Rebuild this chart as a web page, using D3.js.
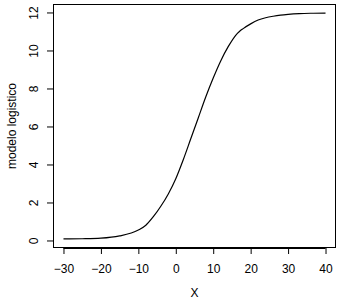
<!DOCTYPE html>
<html>
<head>
<meta charset="utf-8">
<script src="https://cdn.jsdelivr.net/npm/d3@7"></script>
<style>
  body { margin: 0; background: #fff; }
  text { font-family: "Liberation Sans", Arial, sans-serif; font-size: 12px; fill: #000; }
</style>
</head>
<body>
<svg id="chart" width="342" height="304"></svg>
<script>
// values
const xs = [-30, -25, -20, -15, -10, -8, -6, -4, -2, 0, 2, 4, 6, 8, 10, 12, 14, 16, 17, 18, 20, 22, 24, 26, 28, 30, 33, 36, 40];
const ys = [0.08, 0.09, 0.12, 0.24, 0.55, 0.80, 1.25, 1.8, 2.45, 3.25, 4.25, 5.35, 6.45, 7.55, 8.55, 9.45, 10.2, 10.8, 11.0, 11.15, 11.4, 11.6, 11.72, 11.8, 11.86, 11.9, 11.94, 11.96, 11.97];
const xTicks = [-30, -20, -10, 0, 10, 20, 30, 40];
const yTicks = [0, 2, 4, 6, 8, 10, 12];
const xTitle = 'X';
const yTitle = 'modelo logistico';

const box = { left: 53, right: 336, top: 4, bottom: 248 };

// R style: pad the data range by 4% each side
function padded(ext) {
  const d = (ext[1] - ext[0]) * 0.04;
  return [ext[0] - d, ext[1] + d];
}

const x = d3.scaleLinear().domain(padded(d3.extent(xs))).range([box.left, box.right]);
const y = d3.scaleLinear().domain(padded(d3.extent(ys))).range([box.bottom, box.top]);

const svg = d3.select('#chart');

const points = xs.map((v, i) => [v, ys[i]]);

svg.append('path')
  .datum(points)
  .attr('fill', 'none')
  .attr('stroke', '#000')
  .attr('stroke-width', 1.2)
  .attr('d', d3.line().x((d) => x(d[0])).y((d) => y(d[1])).curve(d3.curveMonotoneX));

svg.append('rect')
  .attr('x', box.left + 0.5)
  .attr('y', box.top + 0.5)
  .attr('width', box.right - box.left - 1)
  .attr('height', box.bottom - box.top - 1)
  .attr('fill', 'none')
  .attr('stroke', '#000')
  .attr('stroke-width', 1);

// bottom axis
const xAxis = svg.append('g')
  .attr('transform', `translate(0,${box.bottom})`)
  .call(d3.axisBottom(x).tickValues(xTicks).tickSize(6).tickPadding(10).tickFormat(d3.format('d')));
xAxis.select('.domain')
  .attr('d', `M${x(xTicks[0])},0.5H${x(xTicks[xTicks.length - 1])}`);
xAxis.selectAll('text').style('font-size', '12px').attr('fill', '#000');

// left axis, labels rotated like R's las = 0
const yAxis = svg.append('g')
  .attr('transform', `translate(${box.left},0)`)
  .call(d3.axisLeft(y).tickValues(yTicks).tickSize(6).tickFormat(d3.format('d')));
yAxis.select('.domain')
  .attr('d', `M0.5,${y(yTicks[0])}V${y(yTicks[yTicks.length - 1])}`);
yAxis.selectAll('.tick text')
  .attr('x', null)
  .attr('dy', null)
  .attr('text-anchor', 'middle')
  .attr('transform', 'translate(-15,0) rotate(-90)')
  .style('font-size', '12px')
  .attr('fill', '#000');

svg.append('text')
  .attr('x', (box.left + box.right) / 2)
  .attr('y', 297)
  .attr('text-anchor', 'middle')
  .style('font-size', '12px')
  .text(xTitle);

svg.append('text')
  .attr('transform', `translate(16,${(box.top + box.bottom) / 2}) rotate(-90)`)
  .attr('text-anchor', 'middle')
  .style('font-size', '12px')
  .text(yTitle);
</script>
</body>
</html>
